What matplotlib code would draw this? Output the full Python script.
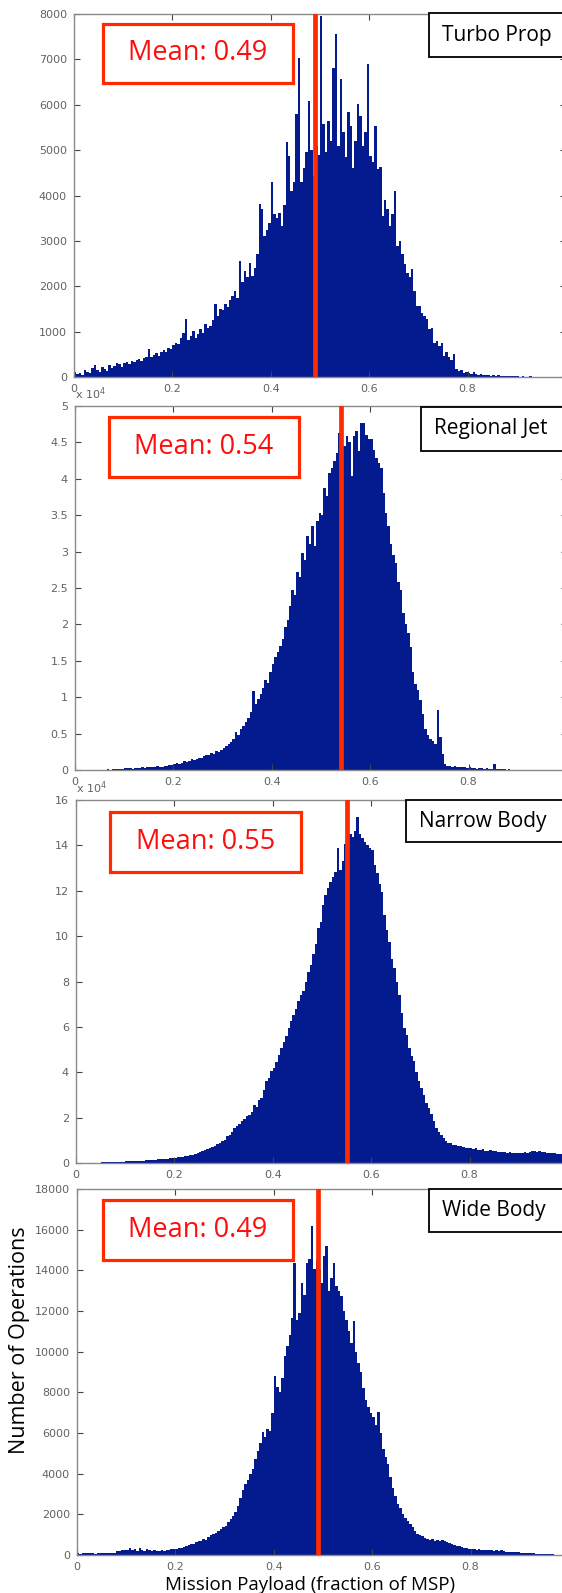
import numpy as np
import matplotlib.pyplot as plt
from matplotlib.patches import Rectangle
from matplotlib.ticker import FuncFormatter

# counts per payload-fraction bin (bin width 0.005, from 0 to 1)
turbo_prop = [
    120, 60, 90, 50, 150, 110, 80, 200, 260, 150, 120, 230, 180, 140, 260, 200, 250, 310, 280, 230,
    300, 330, 280, 350, 320, 380, 400, 360, 420, 450, 610, 430, 480, 520, 470, 560, 600, 560, 640, 620,
    700, 760, 720, 860, 980, 1270, 820, 900, 1010, 870, 950, 1050, 980, 1160, 1080, 1120, 1250, 1600, 1350, 1500,
    1480, 1600, 1550, 1700, 1790, 1900, 1750, 2560, 2100, 2340, 2200, 2520, 2230, 2400, 2700, 3810, 3700, 3100, 3250, 3400,
    4290, 3600, 3500, 3620, 3330, 3800, 5170, 4880, 4100, 4300, 5790, 7040, 4290, 4600, 4950, 6090, 5000, 4430, 5100, 4900,
    7960, 5570, 4950, 5650, 5200, 6820, 7560, 5100, 6570, 5390, 4850, 5830, 5540, 4600, 5200, 6010, 5760, 5100, 5400, 6900,
    4870, 4730, 5540, 4580, 4620, 3550, 3900, 3700, 3330, 3600, 4100, 2890, 3000, 2700, 2500, 2300, 2200, 2370, 1900, 1570,
    1570, 1400, 1350, 1270, 1050, 1090, 760, 800, 680, 760, 460, 540, 430, 380, 500, 170, 130, 150, 95, 110,
    90, 70, 100, 60, 55, 70, 40, 50, 45, 30, 40, 25, 35, 20, 30, 25, 15, 20, 25, 15,
    15, 10, 20, 10, 8, 12, 5, 10, 6, 4, 5, 3, 4, 2, 3, 2, 1, 2, 1, 0,
]

regional_jet = [
    60, 50, 40, 50, 40, 40, 50, 40, 50, 60, 50, 60, 60, 70, 60, 70, 80, 70, 90, 100,
    230, 280, 260, 200, 250, 330, 300, 350, 280, 400, 380, 450, 360, 500, 420, 480, 600, 540, 700, 620,
    800, 920, 850, 1000, 1200, 1050, 1300, 1450, 1350, 1500, 1700, 1600, 1900, 2100, 2000, 2300, 2250, 2600, 2500, 2800,
    3000, 3300, 3600, 3900, 4200, 5200, 4800, 5600, 6100, 6600, 7200, 8000, 10900, 9000, 9800, 10500, 11200, 12300, 12000, 13400,
    14600, 15500, 16200, 17000, 18000, 19700, 20600, 22500, 24700, 24000, 27250, 26500, 29800, 28900, 32100, 31000, 33500, 30800, 34200, 35300,
    35000, 38700, 37600, 40800, 41500, 42500, 43500, 46300, 44500, 44500, 45900, 45000, 40350, 45900, 46560, 43800, 47700, 47700, 46000, 45400,
    45400, 44000, 42900, 42200, 41500, 38000, 35300, 33460, 31000, 29550, 28400, 25800, 24700, 21500, 20000, 18750, 16900, 13500, 11860, 10940,
    9560, 7720, 5650, 4800, 4300, 4040, 3600, 8180, 4500, 2200, 830, 600, 500, 450, 500, 400, 350, 450, 380, 300,
    350, 250, 300, 200, 280, 220, 180, 250, 150, 200, 830, 120, 100, 80, 120, 60, 80, 50, 60, 40,
    40, 30, 50, 20, 30, 20, 15, 20, 10, 15, 10, 8, 10, 5, 40, 6, 5, 3, 2, 0,
]

narrow_body = [
    100, 80, 120, 100, 150, 130, 160, 180, 200, 220, 250, 280, 300, 330, 380, 420, 460, 520, 580, 650,
    730, 760, 820, 800, 900, 950, 1000, 1050, 1120, 1170, 1250, 1350, 1400, 1550, 1650, 1700, 1850, 1950, 2100, 2200,
    2300, 2500, 2600, 2800, 3000, 3200, 3500, 3700, 4000, 4400, 4800, 5200, 5700, 6200, 6600, 7100, 7700, 8300, 9000, 9800,
    10300, 11700, 12500, 13500, 15400, 16500, 17400, 18350, 19400, 20500, 21300, 22600, 25700, 24500, 27900, 28500, 32300, 36000, 37500, 40400,
    42000, 44500, 47500, 50600, 53500, 56000, 59500, 62500, 65300, 68000, 71200, 74000, 75600, 80000, 84400, 87300, 92000, 96500, 103500, 106400,
    113800, 118200, 121100, 124000, 126200, 128400, 138700, 129200, 133000, 140500, 144600, 145200, 143800, 146500, 152700, 145000, 143100, 141500, 140200, 139000,
    138000, 131400, 127700, 123000, 119600, 109400, 102800, 97600, 90000, 85900, 80000, 74100, 66000, 59500, 56500, 50600, 47000, 44800, 40000, 36000,
    33000, 30000, 26500, 24200, 21500, 18500, 15400, 13500, 12500, 11000, 9500, 9000, 8600, 8000, 7800, 7300, 7600, 7000, 6800, 6600,
    6400, 6100, 6500, 5900, 5700, 6000, 5500, 5300, 5600, 5100, 5200, 4900, 5000, 4700, 4800, 4500, 4700, 4400, 4600, 4400,
    4500, 4400, 4700, 4600, 4800, 5100, 5300, 5000, 5200, 4900, 4800, 4600, 4500, 4300, 4200, 4000, 3900, 3800, 3700, 3600,
]

wide_body = [
    80, 70, 90, 80, 75, 85, 80, 70, 90, 80, 85, 75, 80, 90, 85, 100, 210, 180, 230, 250,
    240, 330, 260, 310, 200, 340, 250, 220, 300, 260, 210, 230, 180, 200, 230, 210, 250, 240, 280, 290,
    300, 350, 320, 410, 450, 480, 550, 520, 620, 710, 680, 800, 760, 900, 980, 1040, 1100, 1200, 1280, 1370,
    1450, 1600, 1750, 1900, 2110, 2400, 2800, 3180, 3500, 3670, 4000, 4250, 4700, 5100, 5500, 6060, 5810, 6200, 6100, 7000,
    8780, 8280, 8000, 8700, 9800, 10260, 10800, 11660, 14380, 11580, 11900, 13390, 12800, 14380, 14540, 16190, 14050, 14500, 14000, 13390,
    14710, 15200, 13000, 13600, 14380, 13220, 13000, 12730, 12000, 11580, 11000, 10430, 11500, 10000, 9440, 9000, 8200, 7630, 7300, 6970,
    6800, 6400, 7050, 5980, 5200, 4830, 4500, 3840, 3300, 2900, 2520, 2300, 2000, 1800, 1650, 1530, 1400, 1200, 1050, 960,
    920, 850, 800, 760, 790, 700, 720, 680, 760, 710, 650, 600, 560, 500, 460, 420, 380, 350, 320, 300,
    300, 280, 260, 300, 250, 270, 240, 260, 250, 220, 250, 200, 230, 190, 170, 160, 150, 140, 130, 130,
    120, 110, 100, 90, 80, 75, 70, 60, 55, 50, 45, 40, 35, 25, 20, 15, 10, 5, 3, 0,
]

aircraft = ['Turbo Prop', 'Regional Jet', 'Narrow Body', 'Wide Body']
means = [0.49, 0.54, 0.55, 0.49]
y_max = [8000, 50000, 160000, 18000]
y_step = [1000, 5000, 20000, 2000]
y_scale = [1, 1e4, 1e4, 1]
series = [turbo_prop, regional_jet, narrow_body, wide_body]

bin_edges = np.arange(201) * 0.005

NAVY = '#041a8f'
RED = '#ff2a00'
TICK_GRAY = '#626262'
TEXT_FONT = ['Open Sans', 'DejaVu Sans']

W, H = 562, 1593
fig = plt.figure(figsize=(W / 100, H / 100), dpi=100)


def px_rect(x0, y0, x1, y1):
    # pixel box measured from the top-left corner -> figure fraction
    return [x0 / W, 1 - y1 / H, (x1 - x0) / W, (y1 - y0) / H]


def x_label(v, pos):
    # the tick at 1 sits on the clipped right edge, leave it unlabelled
    return '' if v > 0.99 else f'{v:g}'


# axes placement in pixels: left, top, bottom
axes_px = [(74, 14, 377), (75, 406, 770), (76, 800, 1163), (77, 1189, 1555)]
mean_box_px = [(103, 24, 293, 83), (109, 417, 299, 477), (110, 812, 301, 872), (103, 1200, 293, 1260)]
name_box_px = [(429, 13, 57), (421, 407, 451), (406, 800, 842), (429, 1189, 1232)]

for i in range(4):
    left, top, bottom = axes_px[i]
    ax = fig.add_axes(px_rect(left, top, left + 492, bottom))
    ax.stairs(series[i], bin_edges, fill=True, color=NAVY, lw=0)
    ax.axvline(means[i], color=RED, lw=3.4, zorder=3)

    ax.set_xlim(0, 1)
    ax.set_ylim(0, y_max[i])
    ax.set_xticks(np.arange(0, 1.01, 0.2))
    ax.set_yticks(np.arange(0, y_max[i] + 1, y_step[i]))
    ax.xaxis.set_major_formatter(FuncFormatter(x_label))
    ax.yaxis.set_major_formatter(FuncFormatter(lambda v, p, s=y_scale[i]: f'{v / s:g}'))
    ax.tick_params(direction='in', length=4, width=0.8, color='#444444',
                   top=True, right=True, labelsize=8, labelcolor=TICK_GRAY, pad=5)
    for sp in ax.spines.values():
        sp.set_color('#8a8a8a')
        sp.set_linewidth(1.0)

    if y_scale[i] != 1:
        ax.annotate('x 10$^4$', xy=(0, 1), xycoords='axes fraction', xytext=(0, 3),
                    textcoords='offset points', ha='left', va='bottom',
                    fontsize=8, color=TICK_GRAY)

    # mean annotation
    x0, y0, x1, y1 = mean_box_px[i]
    fig.add_artist(Rectangle(px_rect(x0, y0, x1, y1)[:2], (x1 - x0) / W, (y1 - y0) / H,
                             transform=fig.transFigure, facecolor='white',
                             edgecolor=RED, lw=2.3))
    fig.text((x0 + x1) / 2 / W, 1 - (y0 + y1) / 2 / H, f'Mean: {means[i]:.2f}',
             ha='center', va='center', fontsize=19.5, color='#ff0d0d', family=TEXT_FONT)

    # aircraft class tag, running off the right edge
    bx, by0, by1 = name_box_px[i]
    fig.add_artist(Rectangle(px_rect(bx, by0, W + 15, by1)[:2], (W + 15 - bx) / W, (by1 - by0) / H,
                             transform=fig.transFigure, facecolor='white',
                             edgecolor='black', lw=1.3))
    fig.text((bx + 13) / W, 1 - (by0 + by1) / 2 / H, aircraft[i],
             ha='left', va='center', fontsize=15, color='black', family=TEXT_FONT)

fig.text(310 / W, 1 - 1585 / H, 'Mission Payload (fraction of MSP)',
         ha='center', va='center', fontsize=13.5, family=TEXT_FONT)
fig.text(20 / W, 1 - 1340 / H, 'Number of Operations', rotation=90,
         ha='center', va='center', fontsize=15.5, family=TEXT_FONT)

fig.savefig('out.png', dpi=100)
